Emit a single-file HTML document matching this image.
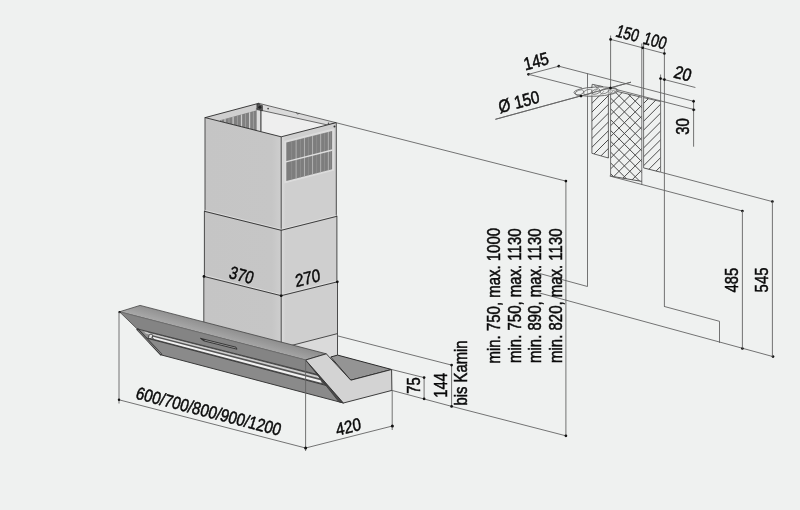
<!DOCTYPE html>
<html lang="de"><head><meta charset="utf-8"><title>Maßzeichnung</title>
<style>
html,body{margin:0;padding:0;background:#eff1f0;}
body{width:800px;height:510px;overflow:hidden;}
svg{display:block;will-change:transform;}
</style></head><body>
<svg width="800" height="510" viewBox="0 0 800 510">
<rect width="800" height="510" fill="#eff1f0"/>
<defs>
<linearGradient id="gf" x1="0" y1="0" x2="1" y2="0"><stop offset="0" stop-color="#c5c5c5"/><stop offset="0.88" stop-color="#c6c6c6"/><stop offset="1" stop-color="#cecece"/></linearGradient>
<linearGradient id="gr" x1="0" y1="0" x2="1" y2="0"><stop offset="0" stop-color="#dcdcdc"/><stop offset="0.08" stop-color="#cfcfcf"/><stop offset="1" stop-color="#cfcfcf"/></linearGradient><linearGradient id="gt" gradientUnits="userSpaceOnUse" x1="230" y1="329" x2="227" y2="340"><stop offset="0" stop-color="#909090"/><stop offset="1" stop-color="#a8a8a8"/></linearGradient>
<clipPath id="cv"><polygon points="286.30,142.60 332.10,130.90 332.10,169.20 286.30,181.10"/></clipPath>
<clipPath id="ci"><polygon points="205.20,117.60 258.70,103.30 258.70,131.50"/></clipPath>
<clipPath id="cs"><polygon points="220.00,120.30 256.40,110.40 256.40,140.00 220.00,140.00"/></clipPath>
<clipPath id="h1"><polygon points="591.90,87.50 608.40,92.00 608.40,158.00 591.90,153.30"/></clipPath>
<clipPath id="h2"><polygon points="610.60,89.90 641.80,97.30 641.80,181.40 610.60,176.10"/></clipPath>
<clipPath id="h3"><polygon points="643.60,97.60 660.60,101.50 660.60,172.20 643.60,167.90"/></clipPath>
</defs>
<polygon points="258.70,103.30 336.00,122.70 281.20,136.80 258.70,131.20" fill="#eeeeee" stroke="none" stroke-width="0.8" stroke-linejoin="round" />
<polygon points="205.20,117.60 258.70,103.30 258.70,131.20" fill="#cfcfcf" stroke="none" stroke-width="0.8" stroke-linejoin="round" />
<g clip-path="url(#ci)">
<polygon points="220.00,120.30 256.40,110.40 256.40,140.00 220.00,140.00" fill="#808080" stroke="none" stroke-width="0.8" stroke-linejoin="round" />
<g clip-path="url(#cs)">
<rect x="224.40" y="100" width="1.2" height="40" fill="#cbcbcb"/>
<rect x="232.50" y="100" width="1.2" height="40" fill="#cbcbcb"/>
<rect x="240.90" y="100" width="1.2" height="40" fill="#cbcbcb"/>
<rect x="249.00" y="100" width="1.2" height="40" fill="#cbcbcb"/>
<rect x="221.15" y="100" width="0.7" height="40" fill="#a8a8a8"/>
<rect x="228.65" y="100" width="0.7" height="40" fill="#a8a8a8"/>
<rect x="236.95" y="100" width="0.7" height="40" fill="#a8a8a8"/>
<rect x="245.15" y="100" width="0.7" height="40" fill="#a8a8a8"/>
<rect x="252.95" y="100" width="0.7" height="40" fill="#a8a8a8"/>
</g>
</g>
<polygon points="256.40,105.00 260.90,106.00 260.90,131.60 256.40,130.50" fill="#dcdcdc" stroke="none" stroke-width="0.8" stroke-linejoin="round" />
<line x1="260.90" y1="108.00" x2="260.90" y2="131.60" stroke="#333" stroke-width="1.1" />
<line x1="256.40" y1="108.00" x2="256.40" y2="130.30" stroke="#777" stroke-width="0.6" />
<polygon points="258.70,103.30 336.00,122.70 328.10,125.10 261.60,110.40" fill="#dadada" stroke="#333" stroke-width="0.7" stroke-linejoin="round" />
<polygon points="256.90,104.00 262.40,105.40 262.40,110.80 256.90,109.60" fill="#555" stroke="#222" stroke-width="0.6" stroke-linejoin="round" />
<circle cx="259.8" cy="107.3" r="1.5" fill="#222"/>
<circle cx="268.1" cy="108.6" r="0.9" fill="#444"/>
<polyline points="296.50,112.60 297.50,114.20 299.00,113.40" fill="none" stroke="#333" stroke-width="0.6" stroke-linejoin="round" stroke-linecap="round" />
<polygon points="205.20,117.60 281.20,136.80 281.20,346.00 203.80,324.00 203.80,276.40 204.40,276.40 204.40,211.30 205.00,211.30" fill="url(#gf)" stroke="none" stroke-width="0.8" stroke-linejoin="round" />
<polygon points="281.20,136.80 336.00,122.70 336.30,216.30 336.90,216.30 336.90,281.80 337.50,281.80 337.50,355.10 330.70,357.00 326.30,353.80 281.20,343.00" fill="url(#gr)" stroke="none" stroke-width="0.8" stroke-linejoin="round" />
<polygon points="281.20,348.10 337.50,333.60 337.50,355.10 330.70,357.00 326.30,353.80 281.20,343.00" fill="#dadada" stroke="none" stroke-width="0.8" stroke-linejoin="round" />
<polygon points="284.30,141.00 334.20,128.20 334.20,170.50 284.30,183.50" fill="#dcdcdc" stroke="none" stroke-width="0.8" stroke-linejoin="round" />
<g clip-path="url(#cv)">
<rect x="280" y="125" width="60" height="60" fill="#7d7d7d"/>
<rect x="295.65" y="125" width="0.9" height="60" fill="#b6b6b6"/>
<rect x="303.95" y="125" width="0.9" height="60" fill="#b6b6b6"/>
<rect x="312.15" y="125" width="0.9" height="60" fill="#b6b6b6"/>
<rect x="320.25" y="125" width="0.9" height="60" fill="#b6b6b6"/>
<rect x="327.85" y="125" width="0.9" height="60" fill="#b6b6b6"/>
<rect x="291.55" y="125" width="0.5" height="60" fill="#9a9a9a"/>
<rect x="300.05" y="125" width="0.5" height="60" fill="#9a9a9a"/>
<rect x="308.35" y="125" width="0.5" height="60" fill="#9a9a9a"/>
<rect x="316.55" y="125" width="0.5" height="60" fill="#9a9a9a"/>
<rect x="324.45" y="125" width="0.5" height="60" fill="#9a9a9a"/>
<rect x="330.55" y="125" width="0.5" height="60" fill="#9a9a9a"/>
</g>
<line x1="285.80" y1="161.90" x2="332.60" y2="150.00" stroke="#dddddd" stroke-width="1.4" />
<polyline points="205.20,117.60 281.20,136.80 336.00,122.70" fill="none" stroke="#2a2a2a" stroke-width="0.9" stroke-linejoin="round" stroke-linecap="round" />
<polyline points="205.20,117.60 258.70,103.30" fill="none" stroke="#2a2a2a" stroke-width="0.9" stroke-linejoin="round" stroke-linecap="round" />
<line x1="205.00" y1="117.60" x2="205.00" y2="211.30" stroke="#3a3a3a" stroke-width="0.9" />
<line x1="204.40" y1="211.30" x2="204.40" y2="276.40" stroke="#3a3a3a" stroke-width="0.9" />
<line x1="203.80" y1="276.40" x2="203.80" y2="323.00" stroke="#3a3a3a" stroke-width="0.9" />
<line x1="281.20" y1="136.80" x2="281.20" y2="345.00" stroke="#3a3a3a" stroke-width="0.9" />
<line x1="336.30" y1="122.80" x2="336.30" y2="216.30" stroke="#3a3a3a" stroke-width="0.9" />
<line x1="336.90" y1="216.30" x2="336.90" y2="281.80" stroke="#3a3a3a" stroke-width="0.9" />
<line x1="337.50" y1="281.80" x2="337.50" y2="355.10" stroke="#3a3a3a" stroke-width="0.9" />
<polyline points="205.00,210.30 281.20,229.30 336.30,215.30" fill="none" stroke="#e2e2e2" stroke-width="0.7" stroke-linejoin="round" stroke-linecap="round" />
<polyline points="205.00,275.40 281.20,294.70 336.30,280.80" fill="none" stroke="#e2e2e2" stroke-width="0.7" stroke-linejoin="round" stroke-linecap="round" />
<polyline points="204.40,211.30 281.20,230.30 336.90,216.30" fill="none" stroke="#2a2a2a" stroke-width="0.9" stroke-linejoin="round" stroke-linecap="round" />
<polyline points="203.80,276.40 281.20,295.70 337.50,281.80" fill="none" stroke="#2a2a2a" stroke-width="0.9" stroke-linejoin="round" stroke-linecap="round" />
<line x1="281.20" y1="348.10" x2="337.50" y2="333.60" stroke="#3a3a3a" stroke-width="0.9" />
<circle cx="334.5" cy="126.6" r="1.0" fill="#333"/>
<circle cx="328.5" cy="123.2" r="0.8" fill="#444"/>
<circle cx="204.00" cy="276.40" r="1.4" fill="#111"/>
<circle cx="281.20" cy="295.70" r="1.4" fill="#111"/>
<circle cx="337.30" cy="281.80" r="1.4" fill="#111"/>
<polygon points="330.70,357.00 350.80,380.20 391.60,369.50 337.60,355.10" fill="#949494" stroke="#2a2a2a" stroke-width="1.0" stroke-linejoin="round" />
<polygon points="119.50,311.80 140.10,305.40 326.30,353.80 305.60,360.00" fill="url(#gt)" stroke="#444" stroke-width="0.8" stroke-linejoin="round" />
<polygon points="119.50,311.80 305.60,360.00 318.60,374.80 137.00,328.80" fill="#848484" stroke="none" stroke-width="0.8" stroke-linejoin="round" />
<polygon points="145.90,337.90 328.60,386.10 343.40,403.00 161.50,355.00" fill="#8a8a8a" stroke="none" stroke-width="0.8" stroke-linejoin="round" />
<polygon points="137.00,328.80 318.60,374.80 328.60,386.10 145.90,337.90" fill="#555555" stroke="none" stroke-width="0.8" stroke-linejoin="round" />
<polygon points="137.00,328.80 147.00,331.33 153.50,339.92 145.90,337.90" fill="#8f8f8f" stroke="none" stroke-width="0.8" stroke-linejoin="round" />
<polygon points="144.00,331.53 318.30,375.96 319.40,378.15 145.76,333.49" fill="#cdcdcd" stroke="none" stroke-width="0.8" stroke-linejoin="round" />
<polygon points="152.00,336.48 320.40,380.15 321.80,382.96 154.24,339.01" fill="#f1f1f1" stroke="none" stroke-width="0.8" stroke-linejoin="round" />
<ellipse cx="150.6" cy="336.4" rx="1.8" ry="2.5" fill="#e4e4e4" stroke="#333" stroke-width="0.8" transform="rotate(28 150.6 336.4)"/>
<line x1="137.00" y1="328.80" x2="318.60" y2="374.80" stroke="#3c3c3c" stroke-width="0.9" />
<line x1="145.90" y1="337.90" x2="328.60" y2="386.10" stroke="#3c3c3c" stroke-width="1.0" />
<line x1="137.00" y1="328.80" x2="161.50" y2="355.00" stroke="#3a3a3a" stroke-width="2.4" />
<line x1="138.00" y1="330.20" x2="160.90" y2="354.00" stroke="#a8a8a8" stroke-width="0.7" />
<polygon points="200.40,338.30 236.00,347.20 237.00,349.20 203.90,340.90" fill="#9a9a9a" stroke="#2e2e2e" stroke-width="0.9" stroke-linejoin="round" />
<polygon points="200.40,338.30 205.40,339.70 203.90,340.90" fill="#2e2e2e" stroke="none" stroke-width="0.8" stroke-linejoin="round" />
<polyline points="137.00,328.80 119.50,311.80" fill="none" stroke="#444" stroke-width="0.8" stroke-linejoin="round" stroke-linecap="round" />
<polyline points="161.50,355.00 343.40,403.00" fill="none" stroke="#3a3a3a" stroke-width="1.0" stroke-linejoin="round" stroke-linecap="round" />
<line x1="119.50" y1="311.80" x2="305.60" y2="360.00" stroke="#6c6c6c" stroke-width="0.8" />
<polygon points="305.60,360.00 343.40,403.00 338.90,401.80" fill="#4a4a4a" stroke="#333" stroke-width="0.7" stroke-linejoin="round" />
<polygon points="305.60,360.00 326.30,353.80 350.80,380.20 391.60,369.50 391.90,390.40 343.40,403.00" fill="#d3d3d3" stroke="#2a2a2a" stroke-width="0.9" stroke-linejoin="round" />
<circle cx="119.50" cy="312.10" r="1.2" fill="#111"/>
<line x1="119.00" y1="312.00" x2="119.00" y2="403.50" stroke="#646464" stroke-width="0.9" />
<line x1="119.00" y1="399.80" x2="305.60" y2="448.00" stroke="#646464" stroke-width="0.9" />
<line x1="305.60" y1="360.00" x2="305.60" y2="451.00" stroke="#646464" stroke-width="0.9" />
<line x1="305.60" y1="448.00" x2="392.40" y2="426.00" stroke="#646464" stroke-width="0.9" />
<line x1="392.20" y1="390.30" x2="392.20" y2="430.00" stroke="#646464" stroke-width="0.9" />
<circle cx="119.00" cy="399.80" r="1.2" fill="#111"/>
<circle cx="305.60" cy="448.00" r="1.5" fill="#111"/>
<circle cx="392.40" cy="426.00" r="1.5" fill="#111"/>
<line x1="337.30" y1="335.80" x2="451.60" y2="365.10" stroke="#646464" stroke-width="0.9" />
<line x1="391.60" y1="369.50" x2="424.10" y2="377.60" stroke="#646464" stroke-width="0.9" />
<line x1="391.90" y1="390.40" x2="451.80" y2="406.40" stroke="#646464" stroke-width="0.9" />
<line x1="451.80" y1="406.40" x2="565.90" y2="435.80" stroke="#646464" stroke-width="0.9" />
<line x1="424.10" y1="377.60" x2="424.10" y2="398.80" stroke="#646464" stroke-width="0.9" />
<line x1="451.60" y1="365.10" x2="451.60" y2="406.40" stroke="#646464" stroke-width="0.9" />
<circle cx="424.10" cy="377.60" r="1.35" fill="#111"/>
<circle cx="424.10" cy="398.80" r="1.35" fill="#111"/>
<circle cx="451.60" cy="365.10" r="1.35" fill="#111"/>
<circle cx="451.60" cy="406.40" r="1.35" fill="#111"/>
<line x1="336.00" y1="122.70" x2="565.90" y2="181.10" stroke="#646464" stroke-width="0.9" />
<line x1="565.90" y1="181.10" x2="565.90" y2="435.80" stroke="#646464" stroke-width="0.9" />
<circle cx="565.90" cy="181.10" r="1.35" fill="#111"/>
<circle cx="565.90" cy="435.80" r="1.35" fill="#111"/>
<polyline points="540.00,273.60 587.50,286.50 587.50,73.80" fill="none" stroke="#646464" stroke-width="0.9" stroke-linejoin="round" stroke-linecap="round" />
<line x1="538.50" y1="292.70" x2="773.00" y2="356.60" stroke="#646464" stroke-width="0.9" />
<circle cx="742.40" cy="348.50" r="1.35" fill="#111"/>
<circle cx="773.00" cy="356.60" r="1.35" fill="#111"/>
<g clip-path="url(#h1)" stroke="#4a4a4a" stroke-width="1.0">
<line x1="588" y1="80.80" x2="612" y2="56.80"/>
<line x1="588" y1="89.60" x2="612" y2="65.60"/>
<line x1="588" y1="98.40" x2="612" y2="74.40"/>
<line x1="588" y1="107.20" x2="612" y2="83.20"/>
<line x1="588" y1="116.00" x2="612" y2="92.00"/>
<line x1="588" y1="124.80" x2="612" y2="100.80"/>
<line x1="588" y1="133.60" x2="612" y2="109.60"/>
<line x1="588" y1="142.40" x2="612" y2="118.40"/>
<line x1="588" y1="151.20" x2="612" y2="127.20"/>
<line x1="588" y1="160.00" x2="612" y2="136.00"/>
<line x1="588" y1="168.80" x2="612" y2="144.80"/>
<line x1="588" y1="177.60" x2="612" y2="153.60"/>
<line x1="588" y1="186.40" x2="612" y2="162.40"/>
<line x1="588" y1="195.20" x2="612" y2="171.20"/>
<line x1="588" y1="204.00" x2="612" y2="180.00"/>
<line x1="588" y1="212.80" x2="612" y2="188.80"/>
</g>
<polyline points="591.90,89.00 591.90,153.30 608.40,158.00 608.40,93.00" fill="none" stroke="#444" stroke-width="0.8" stroke-linejoin="round" stroke-linecap="round" />
<g clip-path="url(#h2)" stroke="#4a4a4a" stroke-width="1.0">
<line x1="606" y1="7.10" x2="646" y2="47.10"/>
<line x1="606" y1="33.10" x2="646" y2="-6.90"/>
<line x1="606" y1="17.90" x2="646" y2="57.90"/>
<line x1="606" y1="43.90" x2="646" y2="3.90"/>
<line x1="606" y1="28.70" x2="646" y2="68.70"/>
<line x1="606" y1="54.70" x2="646" y2="14.70"/>
<line x1="606" y1="39.50" x2="646" y2="79.50"/>
<line x1="606" y1="65.50" x2="646" y2="25.50"/>
<line x1="606" y1="50.30" x2="646" y2="90.30"/>
<line x1="606" y1="76.30" x2="646" y2="36.30"/>
<line x1="606" y1="61.10" x2="646" y2="101.10"/>
<line x1="606" y1="87.10" x2="646" y2="47.10"/>
<line x1="606" y1="71.90" x2="646" y2="111.90"/>
<line x1="606" y1="97.90" x2="646" y2="57.90"/>
<line x1="606" y1="82.70" x2="646" y2="122.70"/>
<line x1="606" y1="108.70" x2="646" y2="68.70"/>
<line x1="606" y1="93.50" x2="646" y2="133.50"/>
<line x1="606" y1="119.50" x2="646" y2="79.50"/>
<line x1="606" y1="104.30" x2="646" y2="144.30"/>
<line x1="606" y1="130.30" x2="646" y2="90.30"/>
<line x1="606" y1="115.10" x2="646" y2="155.10"/>
<line x1="606" y1="141.10" x2="646" y2="101.10"/>
<line x1="606" y1="125.90" x2="646" y2="165.90"/>
<line x1="606" y1="151.90" x2="646" y2="111.90"/>
<line x1="606" y1="136.70" x2="646" y2="176.70"/>
<line x1="606" y1="162.70" x2="646" y2="122.70"/>
<line x1="606" y1="147.50" x2="646" y2="187.50"/>
<line x1="606" y1="173.50" x2="646" y2="133.50"/>
<line x1="606" y1="158.30" x2="646" y2="198.30"/>
<line x1="606" y1="184.30" x2="646" y2="144.30"/>
<line x1="606" y1="169.10" x2="646" y2="209.10"/>
<line x1="606" y1="195.10" x2="646" y2="155.10"/>
<line x1="606" y1="179.90" x2="646" y2="219.90"/>
<line x1="606" y1="205.90" x2="646" y2="165.90"/>
<line x1="606" y1="190.70" x2="646" y2="230.70"/>
<line x1="606" y1="216.70" x2="646" y2="176.70"/>
<line x1="606" y1="201.50" x2="646" y2="241.50"/>
<line x1="606" y1="227.50" x2="646" y2="187.50"/>
<line x1="606" y1="212.30" x2="646" y2="252.30"/>
<line x1="606" y1="238.30" x2="646" y2="198.30"/>
</g>
<line x1="610.60" y1="89.90" x2="641.80" y2="97.30" stroke="#444" stroke-width="0.8" />
<line x1="610.60" y1="176.10" x2="641.80" y2="181.40" stroke="#444" stroke-width="0.9" />
<g clip-path="url(#h3)" stroke="#4a4a4a" stroke-width="1.0">
<line x1="641.5" y1="78.80" x2="663.5" y2="56.80"/>
<line x1="641.5" y1="87.70" x2="663.5" y2="65.70"/>
<line x1="641.5" y1="96.60" x2="663.5" y2="74.60"/>
<line x1="641.5" y1="105.50" x2="663.5" y2="83.50"/>
<line x1="641.5" y1="114.40" x2="663.5" y2="92.40"/>
<line x1="641.5" y1="123.30" x2="663.5" y2="101.30"/>
<line x1="641.5" y1="132.20" x2="663.5" y2="110.20"/>
<line x1="641.5" y1="141.10" x2="663.5" y2="119.10"/>
<line x1="641.5" y1="150.00" x2="663.5" y2="128.00"/>
<line x1="641.5" y1="158.90" x2="663.5" y2="136.90"/>
<line x1="641.5" y1="167.80" x2="663.5" y2="145.80"/>
<line x1="641.5" y1="176.70" x2="663.5" y2="154.70"/>
<line x1="641.5" y1="185.60" x2="663.5" y2="163.60"/>
<line x1="641.5" y1="194.50" x2="663.5" y2="172.50"/>
<line x1="641.5" y1="203.40" x2="663.5" y2="181.40"/>
</g>
<line x1="643.60" y1="97.60" x2="660.60" y2="101.50" stroke="#444" stroke-width="0.8" />
<line x1="643.60" y1="167.90" x2="660.60" y2="172.20" stroke="#444" stroke-width="0.9" />
<line x1="610.60" y1="35.50" x2="610.60" y2="176.10" stroke="#646464" stroke-width="0.9" />
<line x1="641.80" y1="43.50" x2="641.80" y2="185.00" stroke="#646464" stroke-width="0.9" />
<line x1="643.60" y1="44.00" x2="643.60" y2="168.00" stroke="#646464" stroke-width="0.9" />
<line x1="664.40" y1="48.50" x2="664.40" y2="306.50" stroke="#646464" stroke-width="0.9" />
<line x1="660.60" y1="74.50" x2="660.60" y2="172.00" stroke="#646464" stroke-width="0.9" />
<line x1="610.60" y1="39.40" x2="664.40" y2="53.50" stroke="#646464" stroke-width="0.9" />
<circle cx="610.60" cy="39.40" r="1.35" fill="#111"/>
<circle cx="642.70" cy="47.80" r="1.35" fill="#111"/>
<circle cx="664.40" cy="53.50" r="1.35" fill="#111"/>
<line x1="660.50" y1="78.60" x2="695.40" y2="87.50" stroke="#646464" stroke-width="0.9" />
<circle cx="660.50" cy="78.60" r="1.35" fill="#111"/>
<circle cx="664.40" cy="79.60" r="1.35" fill="#111"/>
<line x1="528.50" y1="74.30" x2="558.80" y2="66.20" stroke="#646464" stroke-width="0.9" />
<circle cx="528.50" cy="74.30" r="1.35" fill="#111"/>
<circle cx="558.80" cy="66.20" r="1.35" fill="#111"/>
<line x1="558.80" y1="66.20" x2="693.60" y2="101.30" stroke="#646464" stroke-width="0.9" />
<line x1="528.50" y1="74.30" x2="582.00" y2="88.00" stroke="#646464" stroke-width="0.9" />
<line x1="610.50" y1="88.00" x2="695.50" y2="109.90" stroke="#646464" stroke-width="0.9" />
<line x1="693.60" y1="99.60" x2="693.60" y2="146.70" stroke="#646464" stroke-width="0.9" />
<circle cx="693.60" cy="101.30" r="1.35" fill="#111"/>
<circle cx="693.60" cy="109.80" r="1.35" fill="#111"/>
<line x1="495.40" y1="119.30" x2="631.00" y2="82.20" stroke="#646464" stroke-width="0.9" />
<circle cx="581.00" cy="96.00" r="1.3" fill="#111"/>
<circle cx="610.50" cy="88.00" r="1.3" fill="#111"/>
<g fill="none" stroke="#505050" stroke-width="0.8">
<ellipse cx="596" cy="91.6" rx="22" ry="4.6" fill="#eff1f0" fill-opacity="0.5" stroke="#555" transform="rotate(-2.5 596 91.6)"/>
<ellipse cx="579.50" cy="92.50" rx="4.4" ry="2.4" stroke="#6a6a6a" stroke-width="0.7" transform="rotate(-20 579.50 92.50)"/>
<ellipse cx="587.80" cy="92.05" rx="4.4" ry="2.4" stroke="#6a6a6a" stroke-width="0.7" transform="rotate(-20 587.80 92.05)"/>
<ellipse cx="596.10" cy="91.60" rx="4.4" ry="2.4" stroke="#6a6a6a" stroke-width="0.7" transform="rotate(-20 596.10 91.60)"/>
<ellipse cx="604.40" cy="91.15" rx="4.4" ry="2.4" stroke="#6a6a6a" stroke-width="0.7" transform="rotate(-20 604.40 91.15)"/>
<ellipse cx="612.70" cy="90.70" rx="4.4" ry="2.4" stroke="#6a6a6a" stroke-width="0.7" transform="rotate(-20 612.70 90.70)"/>
</g>
<polyline points="591.80,87.60 592.20,84.30 602.80,86.60" fill="none" stroke="#444" stroke-width="0.8" stroke-linejoin="round" stroke-linecap="round" />
<polyline points="594.50,85.00 597.20,88.20 599.50,85.90" fill="none" stroke="#555" stroke-width="0.7" stroke-linejoin="round" stroke-linecap="round" />
<line x1="495.40" y1="119.30" x2="631.00" y2="82.20" stroke="#646464" stroke-width="0.9" />
<circle cx="581.00" cy="96.00" r="1.3" fill="#111"/>
<circle cx="610.50" cy="88.00" r="1.3" fill="#111"/>
<line x1="660.80" y1="172.20" x2="772.40" y2="201.60" stroke="#646464" stroke-width="0.9" />
<line x1="609.70" y1="176.00" x2="742.40" y2="211.00" stroke="#646464" stroke-width="0.9" />
<circle cx="772.40" cy="201.60" r="1.35" fill="#111"/>
<circle cx="742.40" cy="211.00" r="1.35" fill="#111"/>
<line x1="742.40" y1="211.00" x2="742.40" y2="348.50" stroke="#646464" stroke-width="0.9" />
<line x1="772.40" y1="201.60" x2="772.40" y2="356.60" stroke="#646464" stroke-width="0.9" />
<polyline points="664.40,306.50 719.50,321.30 719.50,342.50" fill="none" stroke="#646464" stroke-width="0.9" stroke-linejoin="round" stroke-linecap="round" />
<g font-family="'Liberation Sans', sans-serif" text-anchor="middle" fill="#0a0a0a" stroke="#0a0a0a" stroke-width="0.5">
<text transform="matrix(0.8113,0.2098,-0.3007,0.9537,206.90,417.20)" font-size="17.8">600/700/800/900/1200</text>
<text transform="matrix(0.8337,-0.2110,0.1564,0.9877,349.30,432.90)" font-size="17.8">420</text>
<text transform="matrix(0.7939,0.2053,-0.3007,0.9537,239.80,280.90)" font-size="17.8">370</text>
<text transform="matrix(0.8434,-0.2134,0.1219,0.9925,308.40,284.00)" font-size="17.8">270</text>
<text transform="matrix(0.8307,-0.2226,0.2250,0.9744,537.50,67.20)" font-size="17.8">145</text>
<text transform="matrix(0.8343,-0.2283,0.2250,0.9744,520.30,107.70)" font-size="17.8">Ø 150</text>
<text transform="matrix(0.7448,0.1954,-0.3173,0.9483,625.70,39.10)" font-size="17.8">150</text>
<text transform="matrix(0.7545,0.1979,-0.3173,0.9483,653.30,46.40)" font-size="17.8">100</text>
<text transform="matrix(0.8423,0.2178,-0.3007,0.9537,681.10,79.40)" font-size="17.8">20</text>
<text transform="matrix(0.0000,-0.8350,1.0000,0.0000,689.30,126.50)" font-size="17.8">30</text>
<text transform="matrix(0.0000,-0.8350,1.0000,0.0000,738.30,280.10)" font-size="17.8">485</text>
<text transform="matrix(0.0000,-0.8350,1.0000,0.0000,768.30,280.00)" font-size="17.8">545</text>
<text transform="matrix(0.0000,-0.8350,1.0000,0.0000,419.50,385.50)" font-size="17.8">75</text>
<text transform="matrix(0.0000,-0.8350,1.0000,0.0000,447.00,385.30)" font-size="17.8">144</text>
<text transform="matrix(0.0000,-0.8350,1.0000,0.0000,466.60,373.00)" font-size="17.8">bis Kamin</text>
<text transform="matrix(0.0000,-0.8410,1.0000,0.0000,500.00,295.70)" font-size="17.8">min. 750, max. 1000</text>
<text transform="matrix(0.0000,-0.8410,1.0000,0.0000,520.60,295.70)" font-size="17.8">min. 750, max. 1130</text>
<text transform="matrix(0.0000,-0.8410,1.0000,0.0000,541.00,295.70)" font-size="17.8">min. 890, max. 1130</text>
<text transform="matrix(0.0000,-0.8410,1.0000,0.0000,561.70,295.70)" font-size="17.8">min. 820, max. 1130</text>
</g>
</svg>
</body></html>
